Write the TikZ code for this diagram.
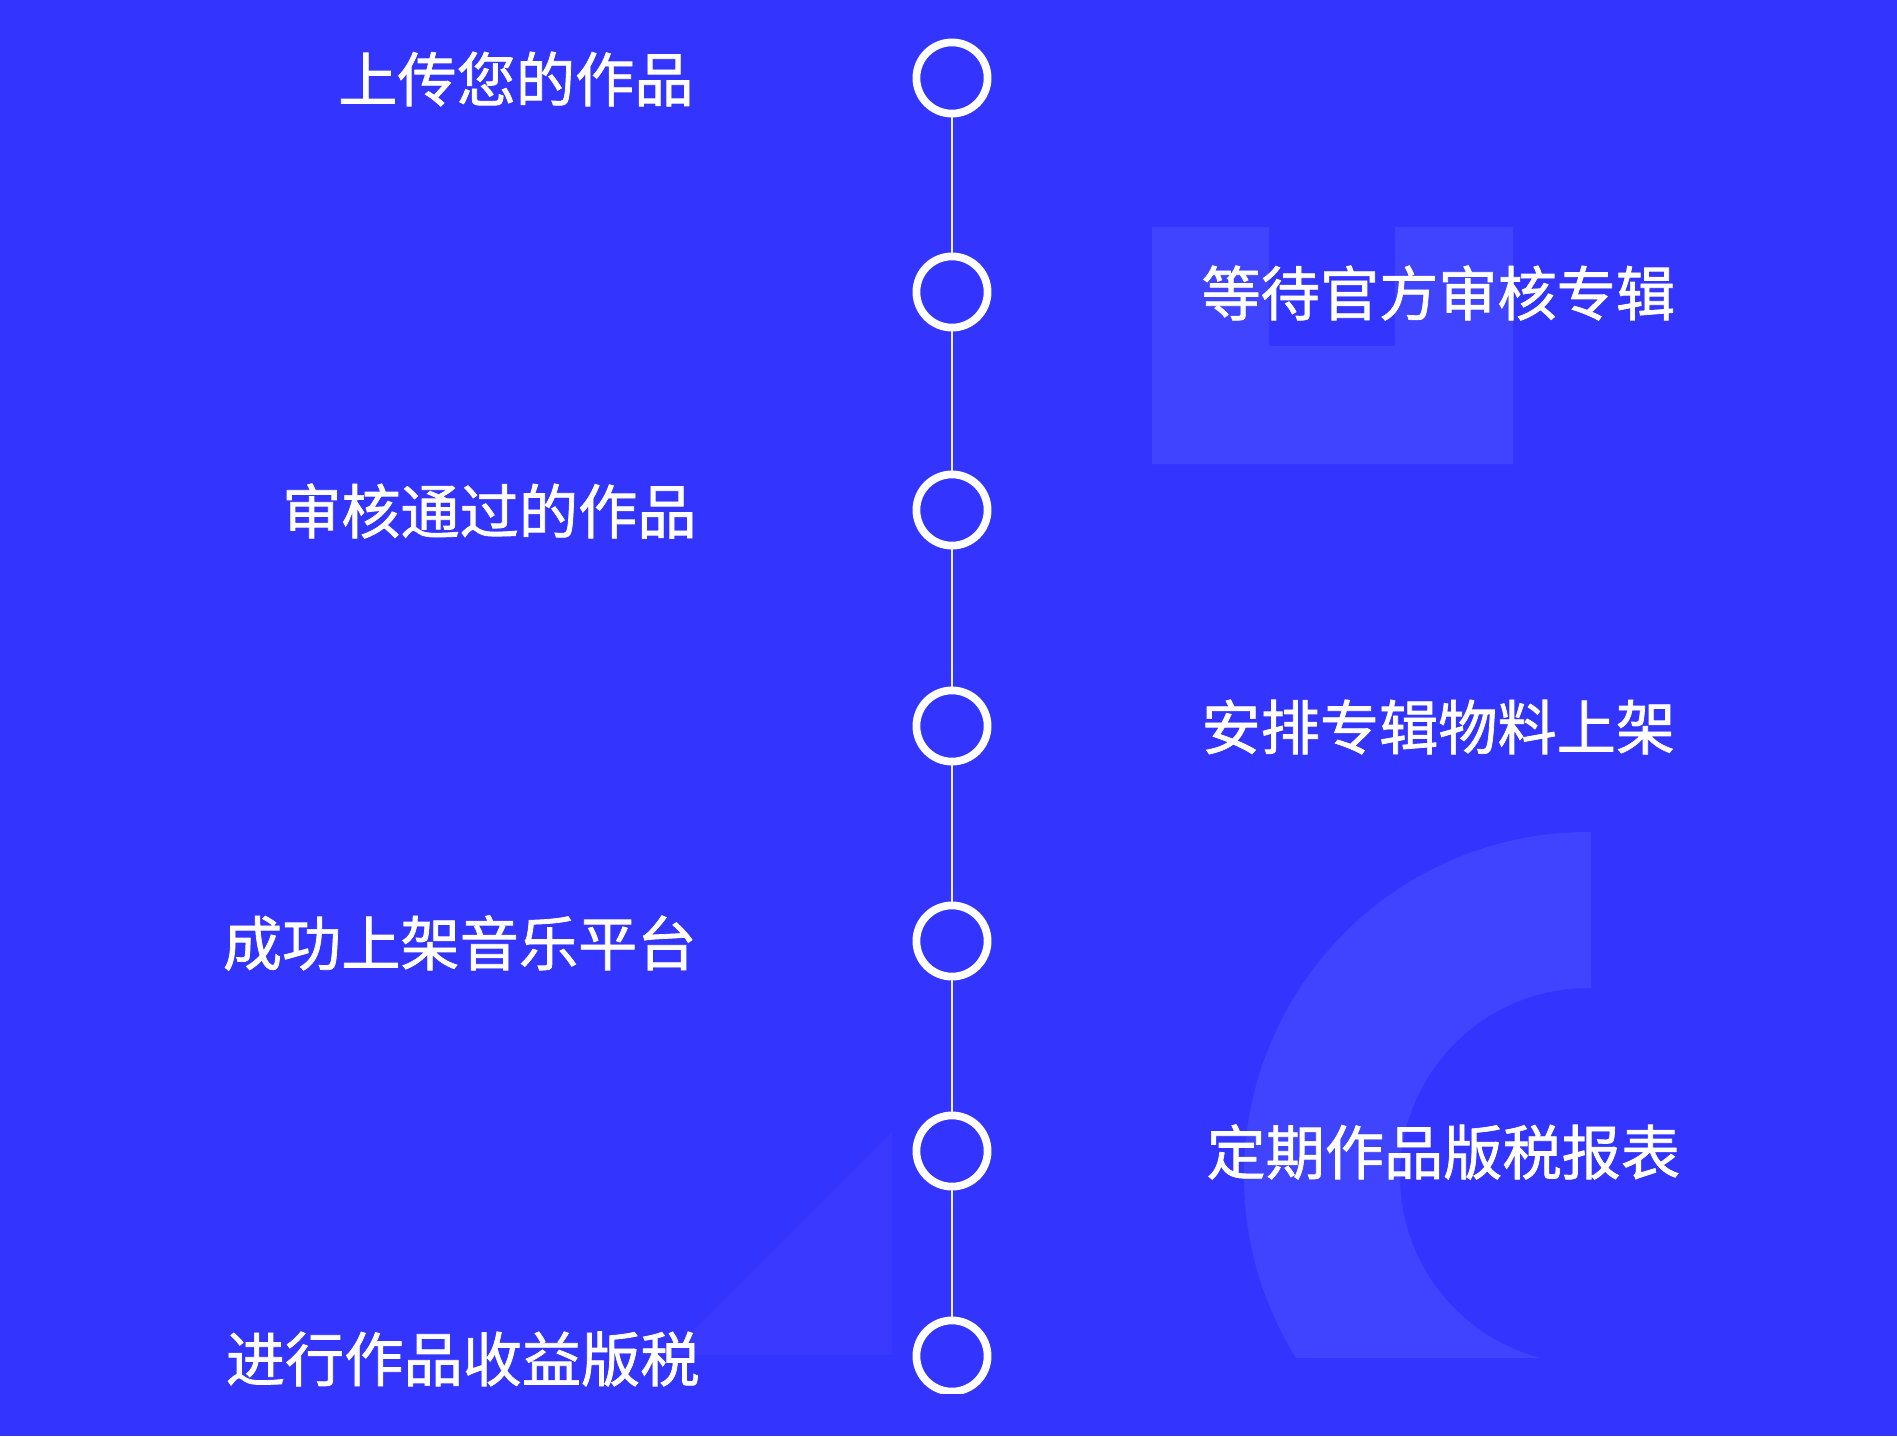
\documentclass[tikz,border=0pt]{standalone}
\usepackage{fontspec}
\newfontfamily\cjk{Noto Sans CJK SC}[FakeBold=1.2]
\usepackage{tikz}
\definecolor{bgblue}{RGB}{52,52,255}
\definecolor{decoblue}{RGB}{64,68,255}
\definecolor{faintblue}{RGB}{57,57,255}
\tikzset{every picture/.style={line width=0.75pt}}
\tikzset{
  ring/.style={circle, draw=white, line width=5.8pt, minimum size=53.4pt, inner sep=0pt},
  link/.style={draw=white!92!bgblue, line width=1.9pt},
  steptext/.style={inner sep=0.75pt, text=white, font=\cjk\fontsize{44.4}{54}\selectfont}
}
\begin{document}
\begin{tikzpicture}[x=0.75pt,y=0.75pt,yscale=-1,xscale=1]
\useasboundingbox (0,0) rectangle (1897,1436);

%Background
\fill[bgblue] (0,0) rectangle (1897,1436);

%Shape: U block
\fill[decoblue] (1152,227) -- (1269,227) -- (1269,346) -- (1395,346) -- (1395,227) -- (1513,227) -- (1513,464) -- (1152,464) -- cycle ;
%Shape: quarter ring
\begin{scope}
\clip (0,0) rectangle (1591,1357);
\fill[decoblue, even odd rule] (1588,1176) circle [radius=344] (1588,1176) circle [radius=188] ;
\end{scope}
%Shape: triangle
\fill[faintblue] (892,1132) -- (892,1355) -- (669,1355) -- cycle ;

%Steps
\begin{scope}
\clip (0,0) rectangle (1897,1393);
\node[ring] (s1) at (952,78) {};
\node[ring] (s2) at (952,292) {};
\node[ring] (s3) at (952,510) {};
\node[ring] (s4) at (952,726) {};
\node[ring] (s5) at (952,941) {};
\node[ring] (s6) at (952,1151) {};
\node[ring] (s7) at (952,1356) {};
\end{scope}

%Connectors
\foreach \a/\b in {s1/s2, s2/s3, s3/s4, s4/s5, s5/s6, s6/s7}
  \draw[link] (\a) -- (\b) ;

% Text Node
\node[steptext, anchor=east] (l1) at (695,79) {上传您的作品};
% Text Node
\node[steptext, anchor=west] (r2) at (1200,293) {等待官方审核专辑};
% Text Node
\node[steptext, anchor=east] (l3) at (698,511) {审核通过的作品};
% Text Node
\node[steptext, anchor=west] (r4) at (1200,727) {安排专辑物料上架};
% Text Node
\node[steptext, anchor=east] (l5) at (698,943) {成功上架音乐平台};
% Text Node
\node[steptext, anchor=west] (r6) at (1205,1152) {定期作品版税报表};
% Text Node
\node[steptext, anchor=east] (l7) at (701,1359) {进行作品收益版税};

\end{tikzpicture}
\end{document}
